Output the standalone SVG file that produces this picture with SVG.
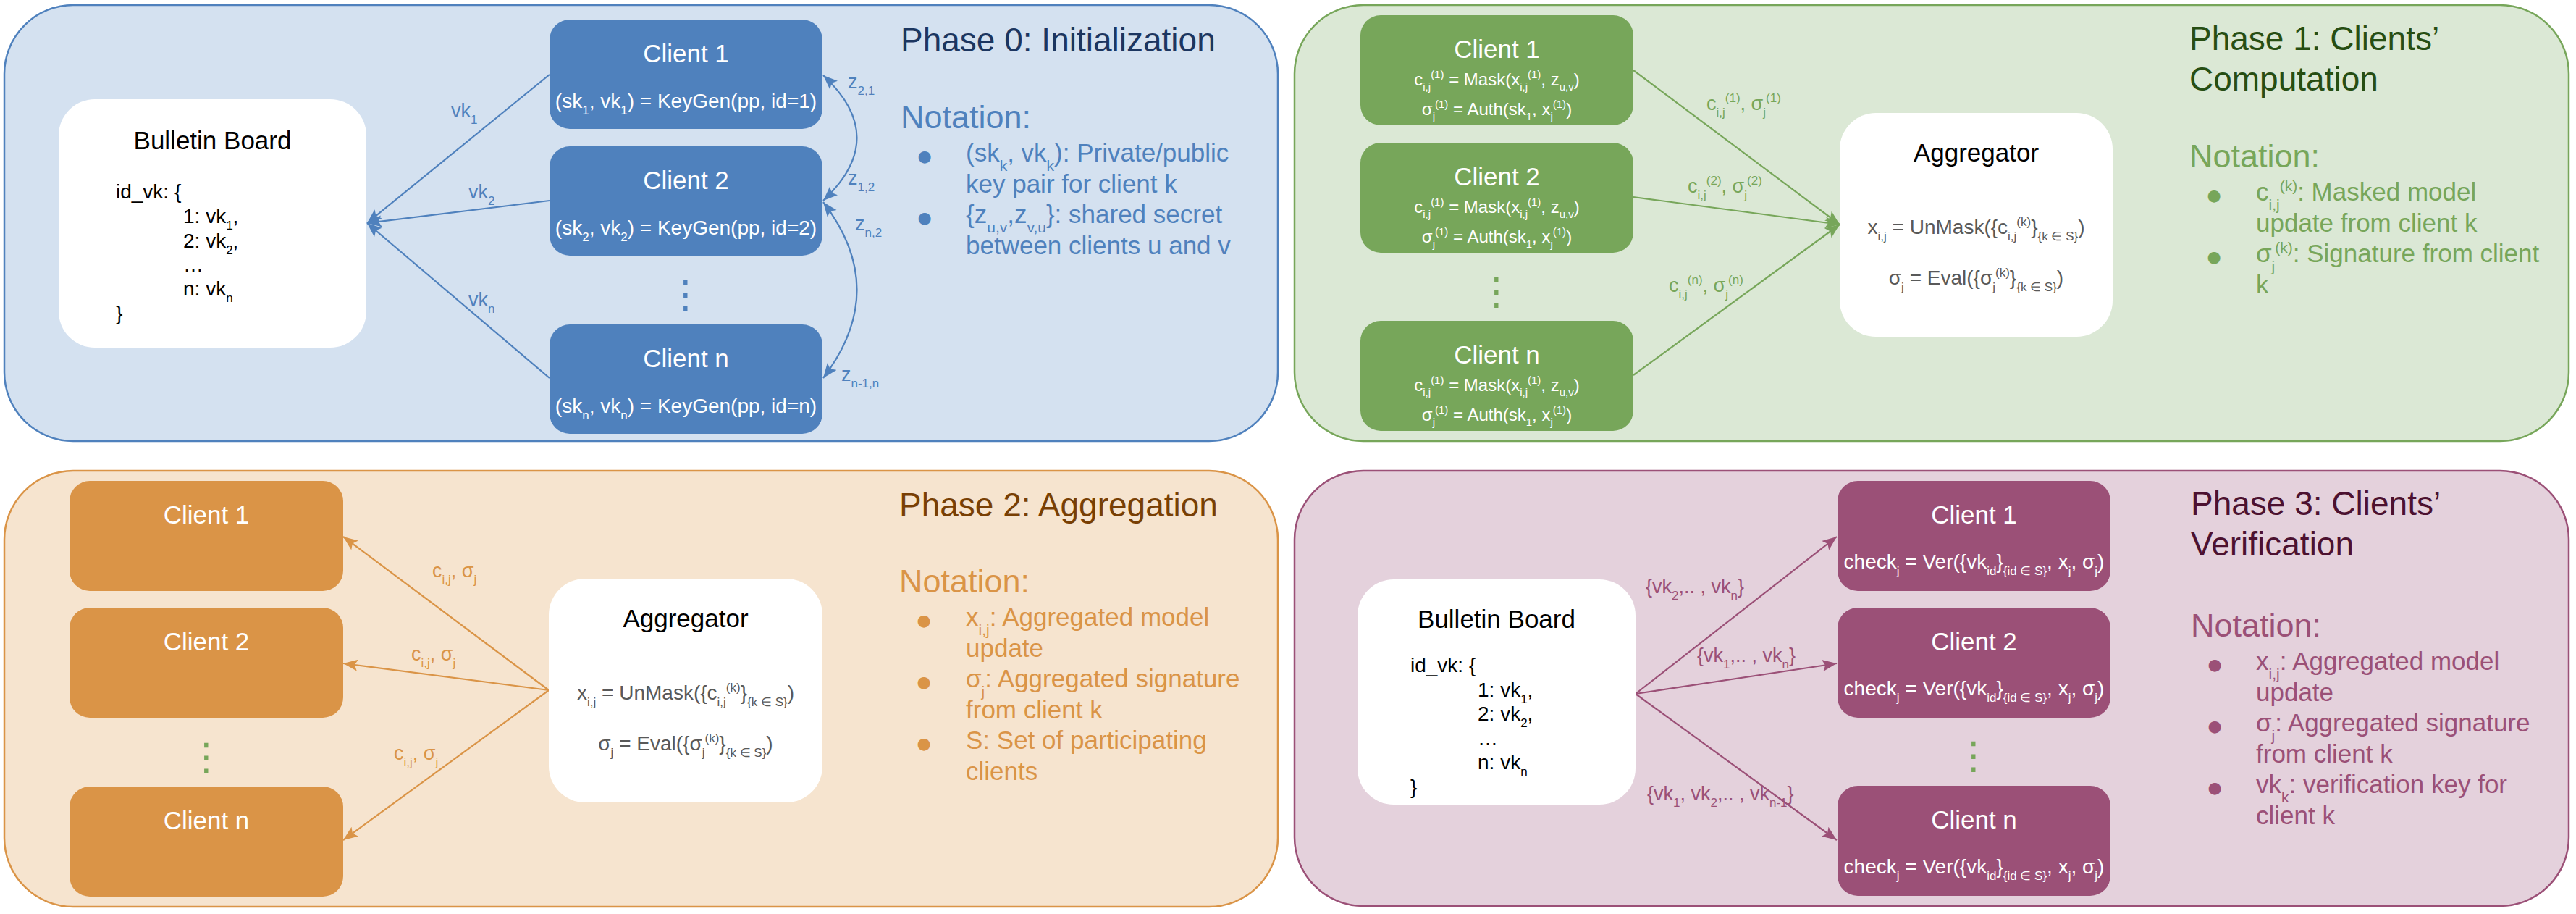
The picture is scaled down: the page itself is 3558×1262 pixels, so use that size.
<svg xmlns="http://www.w3.org/2000/svg" width="3558" height="1262" viewBox="0 0 3558 1262">
<defs>
<style>
text{font-family:"Liberation Sans",Arial,sans-serif}
.t46{font-size:46px}.t45{font-size:45px}.t35{font-size:35px}.t28{font-size:28px}.t27{font-size:27px}.t24{font-size:24px}
.s21{font-size:21px}.s17{font-size:17px}.s15{font-size:15px}
.mid{text-anchor:middle}
.w{fill:#fff}.k{fill:#000}.g5{fill:#595959}
.bul{font-family:"DejaVu Sans",sans-serif;font-size:22px;text-anchor:middle}
.dots{font-family:"DejaVu Sans",sans-serif;font-size:52px;text-anchor:middle}
.cb{fill:#4f81bd}.cg{fill:#77a65a}.co{fill:#da9447}.cp{fill:#9b5077}
.ln{fill:none;stroke-width:2.2}
</style>
<marker id="mb" markerUnits="userSpaceOnUse" markerWidth="21" markerHeight="17" refX="20" refY="8" orient="auto-start-reverse"><path d="M0,0 L20,8 L0,16 L4,8 z" fill="#4f81bd"/></marker>
<marker id="mg" markerUnits="userSpaceOnUse" markerWidth="21" markerHeight="17" refX="20" refY="8" orient="auto-start-reverse"><path d="M0,0 L20,8 L0,16 L4,8 z" fill="#77a65a"/></marker>
<marker id="mo" markerUnits="userSpaceOnUse" markerWidth="21" markerHeight="17" refX="20" refY="8" orient="auto-start-reverse"><path d="M0,0 L20,8 L0,16 L4,8 z" fill="#da9447"/></marker>
<marker id="mp" markerUnits="userSpaceOnUse" markerWidth="21" markerHeight="17" refX="20" refY="8" orient="auto-start-reverse"><path d="M0,0 L20,8 L0,16 L4,8 z" fill="#9b5077"/></marker>
</defs>

<!-- Panels -->
<g id="panel0"><rect x="6" y="7" width="1759" height="602" rx="95" fill="#d4e1f0" stroke="#4f81bd" stroke-width="2.5"/></g>
<g id="panel1"><rect x="1788" y="7" width="1760" height="602" rx="95" fill="#dbe8d5" stroke="#77a65a" stroke-width="2.5"/></g>
<g id="panel2"><rect x="6" y="650" width="1759" height="602" rx="95" fill="#f6e4cf" stroke="#da9447" stroke-width="2.5"/></g>
<g id="panel3"><rect x="1788" y="650" width="1760" height="601" rx="95" fill="#e4d1dc" stroke="#9b5077" stroke-width="2.5"/></g>

<!-- Connectors -->
<g id="connectors">
<path class="ln" stroke="#4f81bd" d="M759,103 L507,308" marker-end="url(#mb)"/>
<path class="ln" stroke="#4f81bd" d="M759,277 L507,308" marker-end="url(#mb)"/>
<path class="ln" stroke="#4f81bd" d="M759,522 L507,308" marker-end="url(#mb)"/>
<path class="ln" stroke="#4f81bd" d="M1137,277 Q1230,190 1137,104" marker-start="url(#mb)" marker-end="url(#mb)"/>
<path class="ln" stroke="#4f81bd" d="M1137,522 Q1230,400 1137,279" marker-start="url(#mb)" marker-end="url(#mb)"/>
<path class="ln" stroke="#77a65a" d="M2256,97 L2541,310" marker-end="url(#mg)"/>
<path class="ln" stroke="#77a65a" d="M2256,272 L2541,310" marker-end="url(#mg)"/>
<path class="ln" stroke="#77a65a" d="M2256,518 L2541,310" marker-end="url(#mg)"/>
<path class="ln" stroke="#da9447" d="M758,953 L474,741" marker-end="url(#mo)"/>
<path class="ln" stroke="#da9447" d="M758,953 L474,916" marker-end="url(#mo)"/>
<path class="ln" stroke="#da9447" d="M758,953 L474,1160" marker-end="url(#mo)"/>
<path class="ln" stroke="#9b5077" d="M2259,958 L2537,741" marker-end="url(#mp)"/>
<path class="ln" stroke="#9b5077" d="M2259,958 L2537,916" marker-end="url(#mp)"/>
<path class="ln" stroke="#9b5077" d="M2259,958 L2537,1160" marker-end="url(#mp)"/>
<!-- labels -->
<text x="623" y="162" class="t27 cb">vk<tspan class="s17" dy="9">1</tspan></text>
<text x="647" y="274" class="t27 cb">vk<tspan class="s17" dy="9">2</tspan></text>
<text x="647" y="423" class="t27 cb">vk<tspan class="s17" dy="9">n</tspan></text>
<text x="1171" y="122" class="t27 cb">z<tspan class="s17" dy="9">2,1</tspan></text>
<text x="1171" y="255" class="t27 cb">z<tspan class="s17" dy="9">1,2</tspan></text>
<text x="1181" y="318" class="t27 cb">z<tspan class="s17" dy="9">n,2</tspan></text>
<text x="1162" y="526" class="t27 cb">z<tspan class="s17" dy="9">n-1,n</tspan></text>
<text x="2357" y="152" class="t27 cg">c<tspan class="s17" dy="9">i,j</tspan><tspan class="s17" dy="-20">(1)</tspan><tspan dy="11">, σ</tspan><tspan class="s17" dy="9">j</tspan><tspan class="s17" dy="-20">(1)</tspan></text>
<text x="2331" y="266" class="t27 cg">c<tspan class="s17" dy="9">i,j</tspan><tspan class="s17" dy="-20">(2)</tspan><tspan dy="11">, σ</tspan><tspan class="s17" dy="9">j</tspan><tspan class="s17" dy="-20">(2)</tspan></text>
<text x="2305" y="403" class="t27 cg">c<tspan class="s17" dy="9">i,j</tspan><tspan class="s17" dy="-20">(n)</tspan><tspan dy="11">, σ</tspan><tspan class="s17" dy="9">j</tspan><tspan class="s17" dy="-20">(n)</tspan></text>
<text x="597" y="797" class="t27 co">c<tspan class="s17" dy="9">i,j</tspan><tspan dy="-9">, σ</tspan><tspan class="s17" dy="9">j</tspan></text>
<text x="568" y="912" class="t27 co">c<tspan class="s17" dy="9">i,j</tspan><tspan dy="-9">, σ</tspan><tspan class="s17" dy="9">j</tspan></text>
<text x="544" y="1049" class="t27 co">c<tspan class="s17" dy="9">i,j</tspan><tspan dy="-9">, σ</tspan><tspan class="s17" dy="9">j</tspan></text>
<text x="2273" y="819" class="t27 cp">{vk<tspan class="s17" dy="9">2</tspan><tspan dy="-9">,.. , vk</tspan><tspan class="s17" dy="9">n</tspan><tspan dy="-9">}</tspan></text>
<text x="2344" y="914" class="t27 cp">{vk<tspan class="s17" dy="9">1</tspan><tspan dy="-9">,.. , vk</tspan><tspan class="s17" dy="9">n</tspan><tspan dy="-9">}</tspan></text>
<text x="2275" y="1105" class="t27 cp">{vk<tspan class="s17" dy="9">1</tspan><tspan dy="-9">, vk</tspan><tspan class="s17" dy="9">2</tspan><tspan dy="-9">,.. , vk</tspan><tspan class="s17" dy="9">n-1</tspan><tspan dy="-9">}</tspan></text>
</g>

<!-- Phase 0 nodes -->
<g id="p0-bulletin">
<rect x="81" y="137" width="425" height="343" rx="50" fill="#fff"/>
<text x="293.5" y="206" class="t35 k mid">Bulletin Board</text>
<text x="160" y="274" class="t28 k">id_vk: {</text>
<text x="253" y="308" class="t28 k">1: vk<tspan class="s17" dy="9">1</tspan><tspan dy="-9">,</tspan></text>
<text x="253" y="342" class="t28 k">2: vk<tspan class="s17" dy="9">2</tspan><tspan dy="-9">,</tspan></text>
<text x="253" y="375" class="t28 k">…</text>
<text x="253" y="408" class="t28 k">n: vk<tspan class="s17" dy="9">n</tspan></text>
<text x="160" y="442" class="t28 k">}</text>
</g>
<g id="p0-client1">
<rect x="759" y="27" width="377" height="151" rx="28" fill="#4f81bd"/>
<text x="947.5" y="86" class="t35 w mid">Client 1</text>
<text x="947.5" y="149" class="t28 w mid">(sk<tspan class="s17" dy="9">1</tspan><tspan dy="-9">, vk</tspan><tspan class="s17" dy="9">1</tspan><tspan dy="-9">) = KeyGen(pp, id=1)</tspan></text>
</g>
<g id="p0-client2">
<rect x="759" y="202" width="377" height="151" rx="28" fill="#4f81bd"/>
<text x="947.5" y="261" class="t35 w mid">Client 2</text>
<text x="947.5" y="324" class="t28 w mid">(sk<tspan class="s17" dy="9">2</tspan><tspan dy="-9">, vk</tspan><tspan class="s17" dy="9">2</tspan><tspan dy="-9">) = KeyGen(pp, id=2)</tspan></text>
</g>
<g id="p0-dots"><text x="947" y="424" class="dots cb">⋮</text></g>
<g id="p0-clientn">
<rect x="759" y="448" width="377" height="151" rx="28" fill="#4f81bd"/>
<text x="947.5" y="507" class="t35 w mid">Client n</text>
<text x="947.5" y="570" class="t28 w mid">(sk<tspan class="s17" dy="9">n</tspan><tspan dy="-9">, vk</tspan><tspan class="s17" dy="9">n</tspan><tspan dy="-9">) = KeyGen(pp, id=n)</tspan></text>
</g>
<g id="p0-notes">
<text x="1244" y="71" class="t46" fill="#1c3660">Phase 0: Initialization</text>
<text x="1244" y="177" class="t45 cb">Notation:</text>
<text x="1277" y="223" class="bul cb">●</text>
<text x="1334" y="223" class="t35 cb">(sk<tspan class="s21" dy="13">k</tspan><tspan dy="-13">, vk</tspan><tspan class="s21" dy="13">k</tspan><tspan dy="-13">): Private/public</tspan></text>
<text x="1334" y="265.5" class="t35 cb">key pair for client k</text>
<text x="1277" y="308" class="bul cb">●</text>
<text x="1334" y="308" class="t35 cb">{z<tspan class="s21" dy="13">u,v</tspan><tspan dy="-13">,z</tspan><tspan class="s21" dy="13">v,u</tspan><tspan dy="-13">}: shared secret</tspan></text>
<text x="1334" y="350.5" class="t35 cb">between clients u and v</text>
</g>

<!-- Phase 1 nodes -->
<g id="p1-client1">
<rect x="1879" y="21" width="377" height="152" rx="28" fill="#77a65a"/>
<text x="2067.5" y="80" class="t35 w mid">Client 1</text>
<text x="2067.5" y="118" class="t24 w mid">c<tspan class="s15" dy="7">i,j</tspan><tspan class="s15" dy="-17">(1)</tspan><tspan dy="10"> = Mask(x</tspan><tspan class="s15" dy="7">i,j</tspan><tspan class="s15" dy="-17">(1)</tspan><tspan dy="10">, z</tspan><tspan class="s15" dy="7">u,v</tspan><tspan dy="-7">)</tspan></text>
<text x="2067.5" y="159" class="t24 w mid">σ<tspan class="s15" dy="7">j</tspan><tspan class="s15" dy="-17">(1)</tspan><tspan dy="10"> = Auth(sk</tspan><tspan class="s15" dy="7">1</tspan><tspan dy="-7">, x</tspan><tspan class="s15" dy="7">j</tspan><tspan class="s15" dy="-17">(1)</tspan><tspan dy="10">)</tspan></text>
</g>
<g id="p1-client2">
<rect x="1879" y="197" width="377" height="152" rx="28" fill="#77a65a"/>
<text x="2067.5" y="256" class="t35 w mid">Client 2</text>
<text x="2067.5" y="294" class="t24 w mid">c<tspan class="s15" dy="7">i,j</tspan><tspan class="s15" dy="-17">(1)</tspan><tspan dy="10"> = Mask(x</tspan><tspan class="s15" dy="7">i,j</tspan><tspan class="s15" dy="-17">(1)</tspan><tspan dy="10">, z</tspan><tspan class="s15" dy="7">u,v</tspan><tspan dy="-7">)</tspan></text>
<text x="2067.5" y="335" class="t24 w mid">σ<tspan class="s15" dy="7">j</tspan><tspan class="s15" dy="-17">(1)</tspan><tspan dy="10"> = Auth(sk</tspan><tspan class="s15" dy="7">1</tspan><tspan dy="-7">, x</tspan><tspan class="s15" dy="7">j</tspan><tspan class="s15" dy="-17">(1)</tspan><tspan dy="10">)</tspan></text>
</g>
<g id="p1-dots"><text x="2067" y="420" class="dots cg">⋮</text></g>
<g id="p1-clientn">
<rect x="1879" y="443" width="377" height="152" rx="28" fill="#77a65a"/>
<text x="2067.5" y="502" class="t35 w mid">Client n</text>
<text x="2067.5" y="540" class="t24 w mid">c<tspan class="s15" dy="7">i,j</tspan><tspan class="s15" dy="-17">(1)</tspan><tspan dy="10"> = Mask(x</tspan><tspan class="s15" dy="7">i,j</tspan><tspan class="s15" dy="-17">(1)</tspan><tspan dy="10">, z</tspan><tspan class="s15" dy="7">u,v</tspan><tspan dy="-7">)</tspan></text>
<text x="2067.5" y="581" class="t24 w mid">σ<tspan class="s15" dy="7">j</tspan><tspan class="s15" dy="-17">(1)</tspan><tspan dy="10"> = Auth(sk</tspan><tspan class="s15" dy="7">1</tspan><tspan dy="-7">, x</tspan><tspan class="s15" dy="7">j</tspan><tspan class="s15" dy="-17">(1)</tspan><tspan dy="10">)</tspan></text>
</g>
<g id="p1-aggregator">
<rect x="2541" y="156" width="377" height="309" rx="50" fill="#fff"/>
<text x="2729.5" y="223" class="t35 k mid">Aggregator</text>
<text x="2729.5" y="323" class="t28 g5 mid">x<tspan class="s17" dy="9">i,j</tspan><tspan dy="-9"> = UnMask({c</tspan><tspan class="s17" dy="9">i,j</tspan><tspan class="s17" dy="-20">(k)</tspan><tspan dy="11">}</tspan><tspan class="s17" dy="9">{k ∈ S}</tspan><tspan dy="-9">)</tspan></text>
<text x="2729.5" y="393" class="t28 g5 mid">σ<tspan class="s17" dy="9">j</tspan><tspan dy="-9"> = Eval({σ</tspan><tspan class="s17" dy="9">j</tspan><tspan class="s17" dy="-20">(k)</tspan><tspan dy="11">}</tspan><tspan class="s17" dy="9">{k ∈ S}</tspan><tspan dy="-9">)</tspan></text>
</g>
<g id="p1-notes">
<text x="3024" y="69" class="t46" fill="#274e13"><tspan x="3024">Phase 1: Clients’</tspan><tspan x="3024" dy="56">Computation</tspan></text>
<text x="3024" y="231" class="t45 cg">Notation:</text>
<text x="3058" y="277" class="bul cg">●</text>
<text x="3116" y="277" class="t35 cg">c<tspan class="s21" dy="13">i,j</tspan><tspan class="s21" dy="-26">(k)</tspan><tspan dy="13">: Masked model</tspan></text>
<text x="3116" y="319.5" class="t35 cg">update from client k</text>
<text x="3058" y="362" class="bul cg">●</text>
<text x="3116" y="362" class="t35 cg">σ<tspan class="s21" dy="13">j</tspan><tspan class="s21" dy="-26">(k)</tspan><tspan dy="13">: Signature from client</tspan></text>
<text x="3116" y="404.5" class="t35 cg">k</text>
</g>

<!-- Phase 2 nodes -->
<g id="p2-client1"><rect x="96" y="664" width="378" height="152" rx="28" fill="#da9447"/><text x="285" y="723" class="t35 w mid">Client 1</text></g>
<g id="p2-client2"><rect x="96" y="839" width="378" height="152" rx="28" fill="#da9447"/><text x="285" y="898" class="t35 w mid">Client 2</text></g>
<g id="p2-dots"><text x="285" y="1063" class="dots cg">⋮</text></g>
<g id="p2-clientn"><rect x="96" y="1086" width="378" height="152" rx="28" fill="#da9447"/><text x="285" y="1145" class="t35 w mid">Client n</text></g>
<g id="p2-aggregator">
<rect x="758" y="799" width="378" height="309" rx="50" fill="#fff"/>
<text x="947" y="866" class="t35 k mid">Aggregator</text>
<text x="947" y="966" class="t28 g5 mid">x<tspan class="s17" dy="9">i,j</tspan><tspan dy="-9"> = UnMask({c</tspan><tspan class="s17" dy="9">i,j</tspan><tspan class="s17" dy="-20">(k)</tspan><tspan dy="11">}</tspan><tspan class="s17" dy="9">{k ∈ S}</tspan><tspan dy="-9">)</tspan></text>
<text x="947" y="1036" class="t28 g5 mid">σ<tspan class="s17" dy="9">j</tspan><tspan dy="-9"> = Eval({σ</tspan><tspan class="s17" dy="9">j</tspan><tspan class="s17" dy="-20">(k)</tspan><tspan dy="11">}</tspan><tspan class="s17" dy="9">{k ∈ S}</tspan><tspan dy="-9">)</tspan></text>
</g>
<g id="p2-notes">
<text x="1242" y="713" class="t46" fill="#783f04">Phase 2: Aggregation</text>
<text x="1242" y="818" class="t45 co">Notation:</text>
<text x="1276" y="864" class="bul co">●</text>
<text x="1334" y="864" class="t35 co">x<tspan class="s21" dy="13">i,j</tspan><tspan dy="-13">: Aggregated model</tspan></text>
<text x="1334" y="906.5" class="t35 co">update</text>
<text x="1276" y="949" class="bul co">●</text>
<text x="1334" y="949" class="t35 co">σ<tspan class="s21" dy="13">j</tspan><tspan dy="-13">: Aggregated signature</tspan></text>
<text x="1334" y="991.5" class="t35 co">from client k</text>
<text x="1276" y="1034" class="bul co">●</text>
<text x="1334" y="1034" class="t35 co">S: Set of participating</text>
<text x="1334" y="1076.5" class="t35 co">clients</text>
</g>

<!-- Phase 3 nodes -->
<g id="p3-bulletin">
<rect x="1875" y="800" width="384" height="311" rx="50" fill="#fff"/>
<text x="2067" y="867" class="t35 k mid">Bulletin Board</text>
<text x="1948" y="928" class="t28 k">id_vk: {</text>
<text x="2041" y="961.5" class="t28 k">1: vk<tspan class="s17" dy="9">1</tspan><tspan dy="-9">,</tspan></text>
<text x="2041" y="995" class="t28 k">2: vk<tspan class="s17" dy="9">2</tspan><tspan dy="-9">,</tspan></text>
<text x="2041" y="1028.5" class="t28 k">…</text>
<text x="2041" y="1062" class="t28 k">n: vk<tspan class="s17" dy="9">n</tspan></text>
<text x="1948" y="1095.5" class="t28 k">}</text>
</g>
<g id="p3-client1">
<rect x="2538" y="664" width="377" height="152" rx="28" fill="#9b5077"/>
<text x="2726.5" y="723" class="t35 w mid">Client 1</text>
<text x="2726.5" y="785" class="t28 w mid">check<tspan class="s17" dy="9">j</tspan><tspan dy="-9"> = Ver({vk</tspan><tspan class="s17" dy="9">id</tspan><tspan dy="-9">}</tspan><tspan class="s17" dy="9">{id ∈ S}</tspan><tspan dy="-9">, x</tspan><tspan class="s17" dy="9">j</tspan><tspan dy="-9">, σ</tspan><tspan class="s17" dy="9">j</tspan><tspan dy="-9">)</tspan></text>
</g>
<g id="p3-client2">
<rect x="2538" y="839" width="377" height="152" rx="28" fill="#9b5077"/>
<text x="2726.5" y="898" class="t35 w mid">Client 2</text>
<text x="2726.5" y="960" class="t28 w mid">check<tspan class="s17" dy="9">j</tspan><tspan dy="-9"> = Ver({vk</tspan><tspan class="s17" dy="9">id</tspan><tspan dy="-9">}</tspan><tspan class="s17" dy="9">{id ∈ S}</tspan><tspan dy="-9">, x</tspan><tspan class="s17" dy="9">j</tspan><tspan dy="-9">, σ</tspan><tspan class="s17" dy="9">j</tspan><tspan dy="-9">)</tspan></text>
</g>
<g id="p3-dots"><text x="2726" y="1061" class="dots cg">⋮</text></g>
<g id="p3-clientn">
<rect x="2538" y="1085" width="377" height="152" rx="28" fill="#9b5077"/>
<text x="2726.5" y="1144" class="t35 w mid">Client n</text>
<text x="2726.5" y="1206" class="t28 w mid">check<tspan class="s17" dy="9">j</tspan><tspan dy="-9"> = Ver({vk</tspan><tspan class="s17" dy="9">id</tspan><tspan dy="-9">}</tspan><tspan class="s17" dy="9">{id ∈ S}</tspan><tspan dy="-9">, x</tspan><tspan class="s17" dy="9">j</tspan><tspan dy="-9">, σ</tspan><tspan class="s17" dy="9">j</tspan><tspan dy="-9">)</tspan></text>
</g>
<g id="p3-notes">
<text x="3026" y="711" class="t46" fill="#4c1130"><tspan x="3026">Phase 3: Clients’</tspan><tspan x="3026" dy="56">Verification</tspan></text>
<text x="3026" y="879" class="t45 cp">Notation:</text>
<text x="3059" y="925" class="bul cp">●</text>
<text x="3116" y="925" class="t35 cp">x<tspan class="s21" dy="13">i,j</tspan><tspan dy="-13">: Aggregated model</tspan></text>
<text x="3116" y="967.5" class="t35 cp">update</text>
<text x="3059" y="1010" class="bul cp">●</text>
<text x="3116" y="1010" class="t35 cp">σ<tspan class="s21" dy="13">j</tspan><tspan dy="-13">: Aggregated signature</tspan></text>
<text x="3116" y="1052.5" class="t35 cp">from client k</text>
<text x="3059" y="1095" class="bul cp">●</text>
<text x="3116" y="1095" class="t35 cp">vk<tspan class="s21" dy="13">k</tspan><tspan dy="-13">: verification key for</tspan></text>
<text x="3116" y="1137.5" class="t35 cp">client k</text>
</g>
</svg>
